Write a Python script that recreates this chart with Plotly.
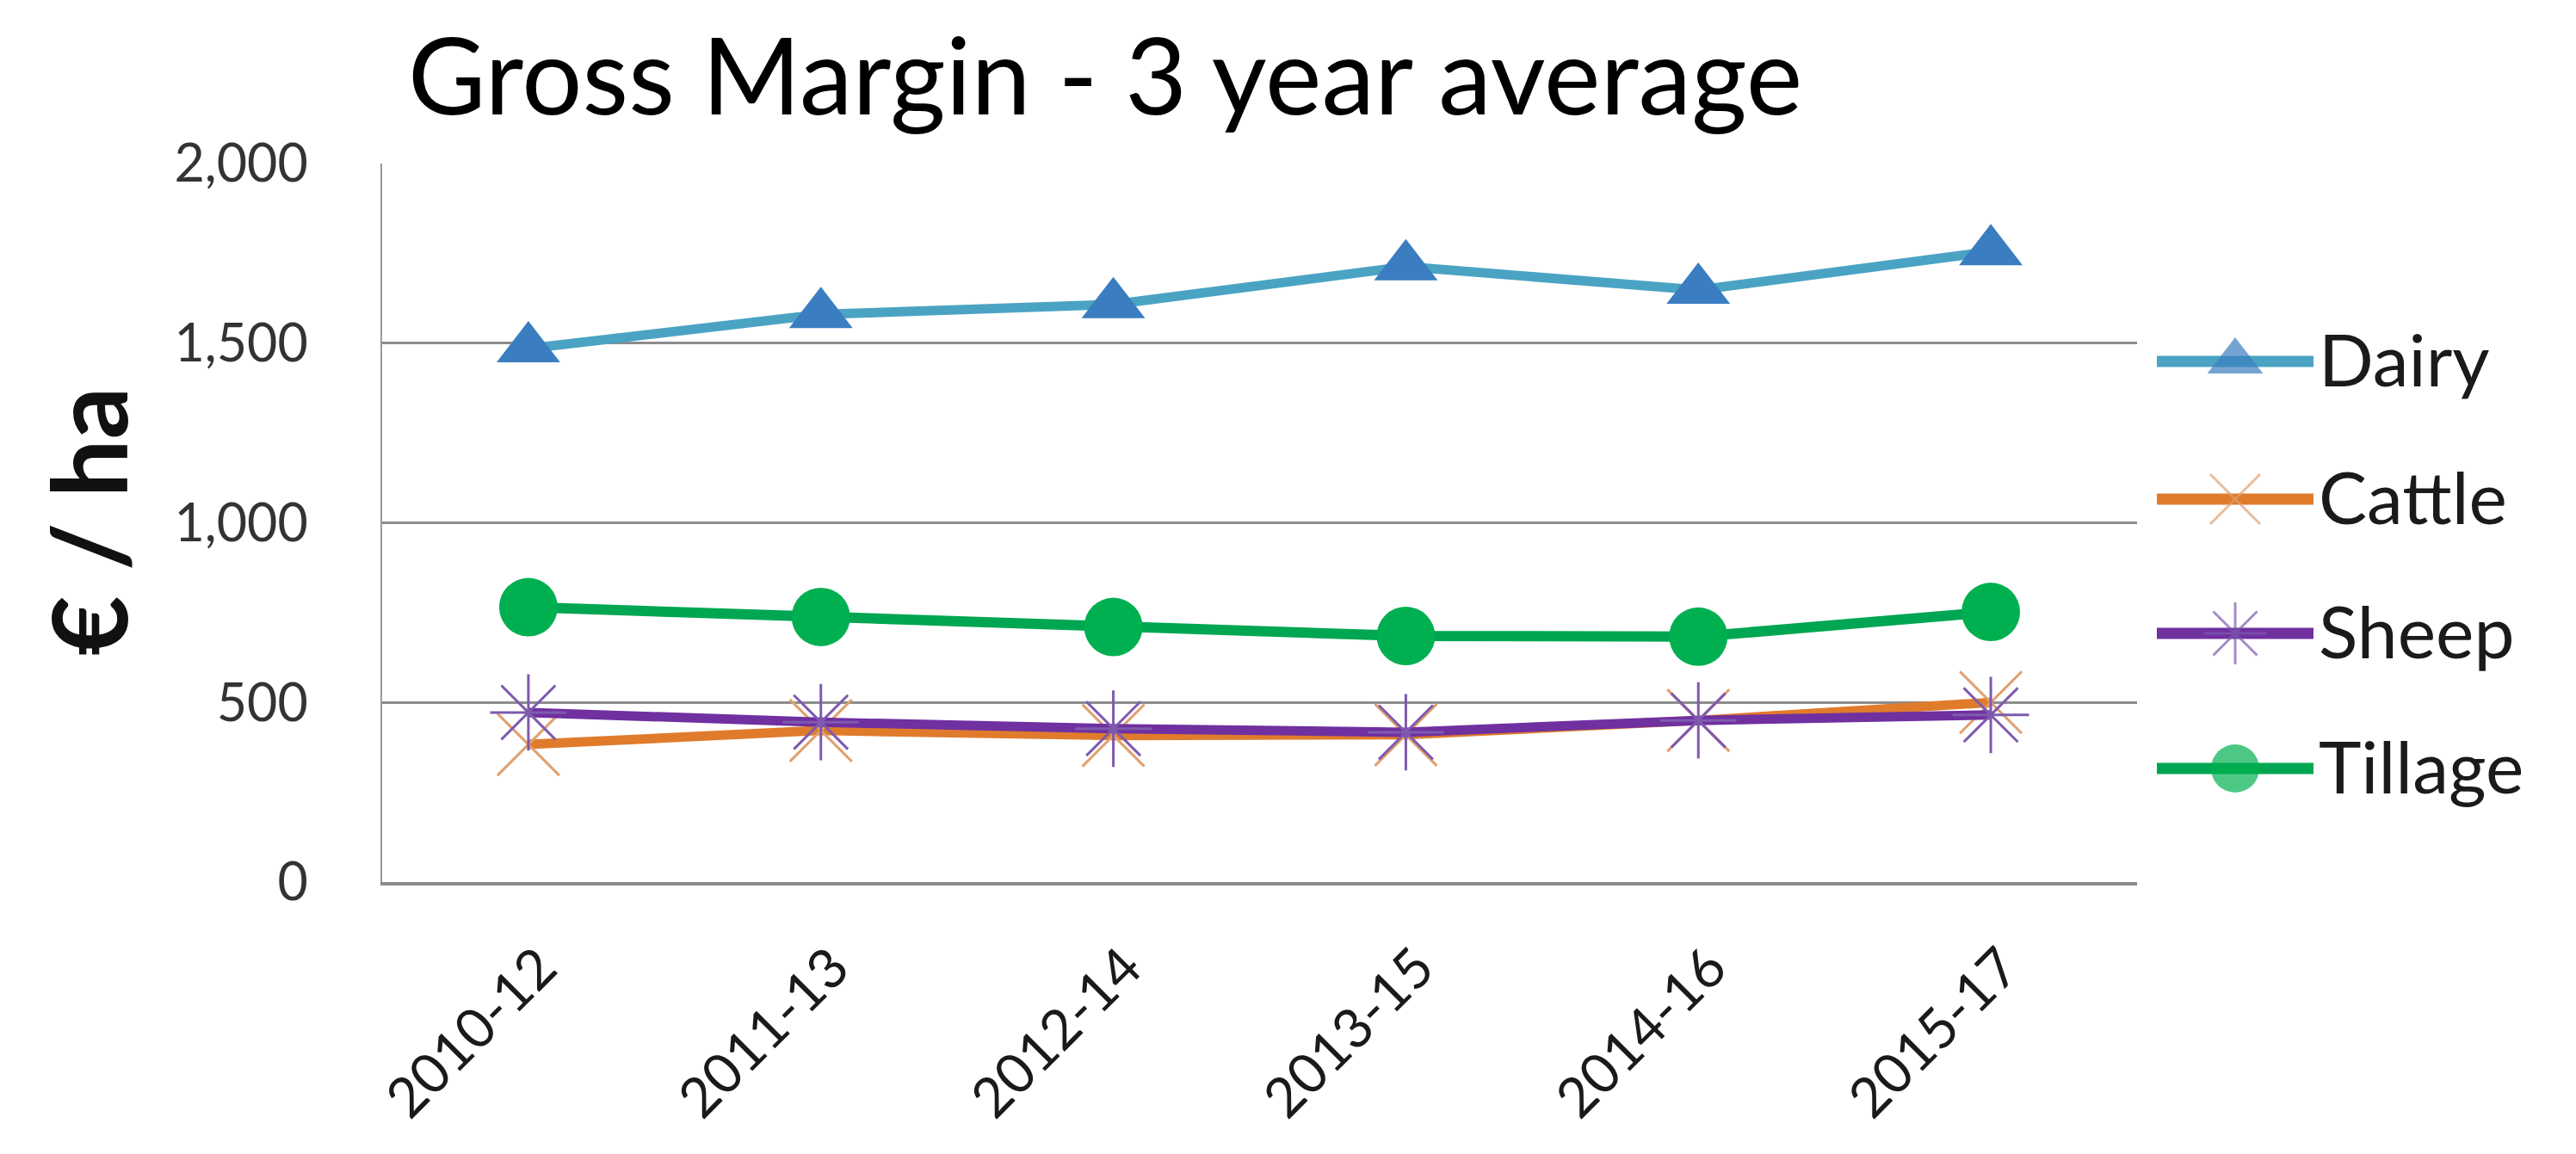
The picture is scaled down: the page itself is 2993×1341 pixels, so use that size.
import plotly.graph_objects as go

categories = ["2010-12", "2011-13", "2012-14", "2013-15", "2014-16", "2015-17"]
dairy = [1485, 1580, 1608, 1713, 1648, 1755]
cattle = [383, 422, 408, 410, 450, 500]
sheep = [472, 445, 427, 417, 450, 465]
tillage = [765, 738, 710, 685, 683, 752]
series_names = ["Dairy", "Cattle", "Sheep", "Tillage"]
y_ticks = [0, 500, 1000, 1500, 2000]

OFF = 8  # default page body margin
W, H = 2993 - 2 * OFF, 1341 - 2 * OFF
# reference-pixel geometry (converted by subtracting OFF)
ML, MT = 444 - OFF, 190 - OFF
PLOT_BOTTOM = 1025 - OFF
MB = H - PLOT_BOTTOM
MR = 40
PW = W - ML - MR
PH = PLOT_BOTTOM - MT

def px_x(p):
    return (p - OFF - ML) / PW

def px_y(p):
    return (PLOT_BOTTOM - (p - OFF)) / PH

styles = {
    "Dairy": dict(line=dict(color="#4BA3C3", width=11),
                  marker=dict(symbol="triangle-up", size=64, color="#3A7DC0",
                              line=dict(width=0))),
    "Cattle": dict(line=dict(color="#E07B2C", width=11),
                   marker=dict(symbol="x-thin-open", size=72, color="#E0A070",
                               line=dict(width=3))),
    "Sheep": dict(line=dict(color="#7030A0", width=11),
                  marker=dict(symbol="asterisk-open", size=74, color="#7E5AAE",
                              line=dict(width=3))),
    "Tillage": dict(line=dict(color="#00A651", width=12),
                    marker=dict(symbol="circle", size=68, color="#00B050",
                                line=dict(width=0))),
}
values = {"Dairy": dairy, "Cattle": cattle, "Sheep": sheep, "Tillage": tillage}

fig = go.Figure()
for name in series_names:
    st = styles[name]
    fig.add_trace(go.Scatter(x=categories, y=values[name], mode="lines+markers",
                             name=name, line=st["line"], marker=st["marker"],
                             showlegend=False, cliponaxis=False))

# custom legend drawn in an auxiliary axis
legend_y_px = [420, 580, 736, 893]
legend_marker_size = {"Dairy": 56, "Cattle": 58, "Sheep": 60, "Tillage": 56}
for name, ly in zip(series_names, legend_y_px):
    st = styles[name]
    mk = dict(st["marker"])
    mk["size"] = [0, legend_marker_size[name], 0]
    fig.add_trace(go.Scatter(x=[0, 0.5, 1], y=[px_y(ly)] * 3, mode="lines+markers",
                             line=dict(color=st["line"]["color"], width=13),
                             marker=mk, xaxis="x2", yaxis="y2",
                             showlegend=False, cliponaxis=False, hoverinfo="skip"))
    fig.add_annotation(text=name, x=px_x(2692), y=px_y(ly - 4), xref="paper", yref="paper",
                       xanchor="left", yanchor="middle", showarrow=False,
                       font=dict(family="Lato", size=84, color="#1a1a1a"))

fig.add_annotation(text="<b>€ / ha</b>", x=px_x(102), y=px_y(606), xref="paper", yref="paper",
                   xanchor="center", yanchor="middle", textangle=-90, showarrow=False,
                   font=dict(family="Lato", size=120, color="#111111"))

fig.update_layout(
    width=W, height=H,
    margin=dict(l=ML, r=MR, t=MT, b=MB),
    paper_bgcolor="white", plot_bgcolor="white",
    title=dict(text="Gross Margin - 3 year average", x=px_x(474), xref="paper",
               xanchor="left", y=1 - (90 - OFF) / H, yref="container", yanchor="middle",
               font=dict(family="Lato", size=124, color="#000000")),
    xaxis=dict(type="category", domain=[0, px_x(2483)], range=[-0.5, 5.5],
               showgrid=False, showline=True, linecolor="#8a8a8a", linewidth=4,
               tickangle=-45, ticks="", ticklabelstandoff=32, ticklabelshift=14,
               tickfont=dict(family="Lato", size=64, color="#1a1a1a")),
    yaxis=dict(range=[0, 2000], tickvals=y_ticks, tickformat=",",
               showgrid=True, gridcolor="#8c8c8c", gridwidth=3,
               showline=True, linecolor="#9a9a9a", linewidth=2,
               zeroline=False, ticks="", ticklabelstandoff=72,
               tickfont=dict(family="Lato", size=61, color="#333333")),
    xaxis2=dict(domain=[px_x(2506), px_x(2688)], range=[0, 1], visible=False,
                anchor="y2"),
    yaxis2=dict(domain=[0, 1], range=[0, 1], visible=False, anchor="x2"),
)

fig.write_html("out.html")
